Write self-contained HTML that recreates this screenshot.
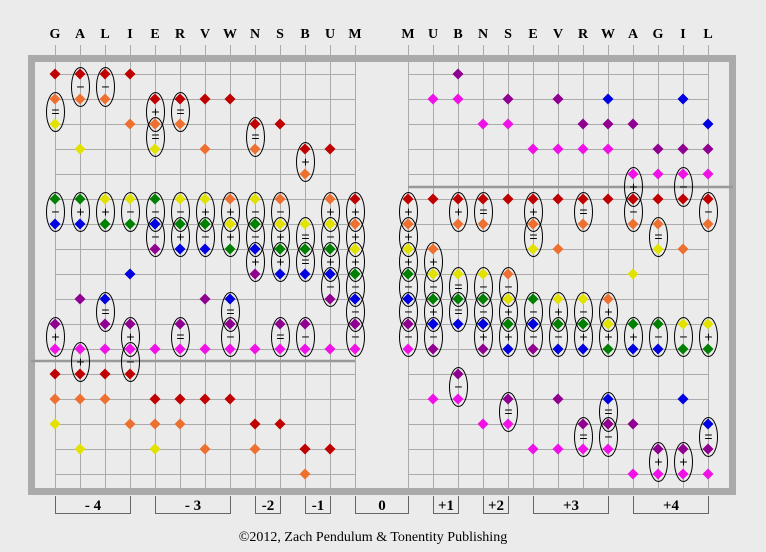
<!DOCTYPE html>
<html><head><meta charset="utf-8">
<style>
html,body{margin:0;padding:0;background:#ebebeb;}
svg{display:block;}
.h{font-family:"Liberation Serif",serif;font-weight:bold;font-size:14px;text-anchor:middle;fill:#000;}
.b{font-family:"Liberation Serif",serif;font-weight:bold;font-size:15px;text-anchor:middle;fill:#000;}
.c{font-family:"Liberation Serif",serif;font-size:14px;text-anchor:middle;fill:#000;}
.o{font-family:"Liberation Sans",sans-serif;font-size:14px;text-anchor:middle;fill:#000;}
</style></head>
<body>
<svg id="s" width="766" height="552" viewBox="0 0 766 552" xmlns="http://www.w3.org/2000/svg">
<rect width="766" height="552" fill="#ebebeb"/>
<g id="grid" stroke="#aaa" stroke-width="1"></g>
<rect x="31.5" y="58.5" width="701" height="433" fill="none" stroke="#aaa" stroke-width="7"/>
<line x1="31" y1="361" x2="355" y2="361" stroke="#999" stroke-width="2.5"/>
<line x1="408" y1="187" x2="733" y2="187" stroke="#999" stroke-width="2.5"/>
<g id="ell" fill="none" stroke="#000" stroke-width="1"></g>
<g id="dia"></g>
<g id="ops"></g>
<g>
<text class="h" x="55" y="38">G</text><text class="h" x="80" y="38">A</text><text class="h" x="105" y="38">L</text><text class="h" x="130" y="38">I</text><text class="h" x="155" y="38">E</text><text class="h" x="180" y="38">R</text><text class="h" x="205" y="38">V</text><text class="h" x="230" y="38">W</text><text class="h" x="255" y="38">N</text><text class="h" x="280" y="38">S</text><text class="h" x="305" y="38">B</text><text class="h" x="330" y="38">U</text><text class="h" x="355" y="38">M</text>
<text class="h" x="408" y="38">M</text><text class="h" x="433" y="38">U</text><text class="h" x="458" y="38">B</text><text class="h" x="483" y="38">N</text><text class="h" x="508" y="38">S</text><text class="h" x="533" y="38">E</text><text class="h" x="558" y="38">V</text><text class="h" x="583" y="38">R</text><text class="h" x="608" y="38">W</text><text class="h" x="633" y="38">A</text><text class="h" x="658" y="38">G</text><text class="h" x="683" y="38">I</text><text class="h" x="708" y="38">L</text>
</g>
<g fill="none" stroke="#666" stroke-width="1">
<path d="M55.5 496V513.5H130.5V496"/><path d="M155.5 496V513.5H230.5V496"/><path d="M255.5 496V513.5H280.5V496"/><path d="M305.5 496V513.5H330.5V496"/><path d="M355.5 496V513.5H408.5V496"/><path d="M433.5 496V513.5H458.5V496"/><path d="M483.5 496V513.5H508.5V496"/><path d="M533.5 496V513.5H608.5V496"/><path d="M633.5 496V513.5H708.5V496"/>
</g>
<text class="b" x="93" y="510">- 4</text><text class="b" x="193" y="510">- 3</text><text class="b" x="268" y="510">-2</text><text class="b" x="318" y="510">-1</text><text class="b" x="382" y="510">0</text><text class="b" x="446" y="510">+1</text><text class="b" x="496" y="510">+2</text><text class="b" x="571" y="510">+3</text><text class="b" x="671" y="510">+4</text>
<text class="c" x="373" y="541">©2012, Zach Pendulum &amp; Tonentity Publishing</text>
</svg>
<script>
(function(){
var NS="http://www.w3.org/2000/svg";
function el(p,t,a){var e=document.createElementNS(NS,t);for(var k in a)e.setAttribute(k,a[k]);p.appendChild(e);return e;}
var grid=document.getElementById("grid"),ell=document.getElementById("ell"),dia=document.getElementById("dia"),ops=document.getElementById("ops");
function Y(r){return 74+25*r;}
[[55,355],[408,708]].forEach(function(s){
 for(var x=s[0];x<=s[1];x+=25) el(grid,"line",{x1:x+0.5,y1:45,x2:x+0.5,y2:488});
 for(var r=0;r<17;r++) el(grid,"line",{x1:s[0],y1:Y(r)+0.5,x2:s[1],y2:Y(r)+0.5});
});
var C={R:"#c00000",O:"#ee7030",Y:"#e2e200",G:"#008000",B:"#0000e0",P:"#900090",M:"#f010e8"};
var L=["R0 O1=Y2 G5-B6 P10+M11 R12 O13 Y14","R0-O1 Y3 G5+B6 P9 M11+R12 O13 Y15","R0-O1 Y5+G6 B9=P10 M11 R12 O13","R0 O2 Y5-G6 B8 P10+M11 M11-R12 O14","R1+O2 O2=Y3 G5-B6 B6-P7 M11 R13 O14 Y15","R1=O2 Y5-G6 G6+B7 P10=M11 R13 O14","R1 O3 Y5+G6 G6-B7 P9 M11 R13 O15","R1 O5+Y6 Y6+G7 B9=P10 P10-M11 R13","R2=O3 Y5-G6 G6-B7 B7+P8 M11 R14 O15","R2 O5-Y6 Y6+G7 G7+B8 P10=M11 R14","R3+O4 Y6=G7 G7=B8 P10-M11 R15 O16","R3 O5+Y6 Y6-G7 G7+B8 B8-P9 M11 R15","R5+O6 O6+Y7 Y7+G8 G8-B9 B9-P10 P10-M11"];
var R=["R5+O6 O6+Y7 Y7+G8 G8-B9 B9-P10 P10-M11","M1 R5 O7+Y8 Y8-G9 G9+B10 B10-P11 M13","P0 M1 R5+O6 Y8=G9 G9=B10 P12-M13","M2 R5=O6 Y8-G9 G9-B10 B10+P11 M14","P1 M2 R5 O8-Y9 Y9+G10 G10+B11 P13=M14","M3 R5+O6 O6=Y7 G9-B10 B10-P11 M15","P1 M3 R5 O7 Y9+G10 G10-B11 P13 M15","P2 M3 R5=O6 Y9-G10 G10+B11 P14=M15","B1 P2 M3 R5 O9+Y10 Y10+G11 B13=P14 P14-M15","P2 M4+R5 R5-O6 Y8 G10+B11 P14 M16","P3 M4 R5 O6=Y7 G10-B11 P15+M16","B1 P3 M4-R5 O7 Y10-G11 B13 P15+M16","B2 P3 M4 R5-O6 Y10+G11 B14=P15 M16"];
function pt(x,tok){var c=tok[0],r=+tok.slice(1),y=Y(r);
 el(dia,"polygon",{points:(x)+","+(y-5.5)+" "+(x+5.5)+","+y+" "+x+","+(y+5.5)+" "+(x-5.5)+","+y,fill:C[c]});return y;}
function col(x,s){s.split(" ").forEach(function(t){
 var m=t.match(/^([A-Z]\d+)([-+=])([A-Z]\d+)$/);
 if(m){var y1=pt(x,m[1]),y2=pt(x,m[3]),cy=(y1+y2)/2;
  el(ell,"ellipse",{cx:x+0.5,cy:cy+0.5,rx:9,ry:19.5});
  var o=el(ops,"text",{"class":"o",x:x+0.5,y:cy+5});o.textContent=m[2]=="-"?"\u2212":m[2];}
 else pt(x,t);});}
L.forEach(function(s,i){col(55+25*i,s);});
R.forEach(function(s,i){col(408+25*i,s);});
})();
</script>
</body></html>
